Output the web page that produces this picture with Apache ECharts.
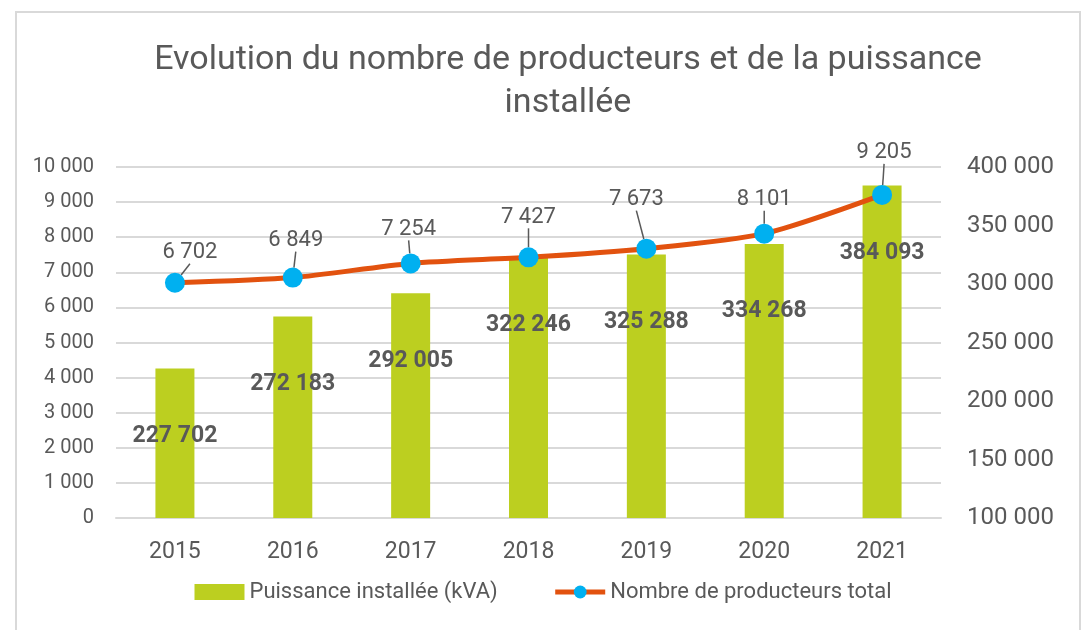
<!DOCTYPE html>
<html>
<head>
    <meta charset="utf-8">
    <title>Evolution producteurs</title>
    <script src="https://cdn.jsdelivr.net/npm/echarts@6/dist/echarts.min.js"></script>
    <style>
        html, body { margin: 0; padding: 0; background: #fff; }
        #chart { width: 1086px; height: 630px; }
    </style>
</head>
<body>
    <div id="chart"></div>
    <script type="text/javascript">
        var years = ['2015', '2016', '2017', '2018', '2019', '2020', '2021'];
        var puissance = [227702, 272183, 292005, 322246, 325288, 334268, 384093];
        var producteurs = [6702, 6849, 7254, 7427, 7673, 8101, 9205];

        // position des étiquettes de la courbe (décalage par rapport au point)
        var labelShift = [[15, -30], [3, -37], [-2, -34], [0, -40], [-10, -49], [0, -34], [2, -42]];

        var FONT = 'Roboto';
        var GREY = '#595959';

        function fmt(v) {
            return String(v).replace(/\B(?=(\d{3})+(?!\d))/g, ' ');
        }

        var chart = echarts.init(document.getElementById('chart'));
        var option = {
            backgroundColor: '#fff',
            textStyle: { fontFamily: FONT },
            graphic: [{
                type: 'rect',
                shape: { x: 16, y: 12, width: 1064, height: 640 },
                style: { fill: 'none', stroke: '#d9d9d9', lineWidth: 2 },
                silent: true
            }],
            title: {
                text: 'Evolution du nombre de producteurs et de la puissance\ninstallée',
                left: 563,
                top: 34,
                textAlign: 'center',
                textStyle: { fontFamily: FONT, fontSize: 34, fontWeight: 'normal', color: GREY, lineHeight: 43 }
            },
            legend: {
                bottom: 22,
                left: 'center',
                itemGap: 55,
                itemWidth: 50,
                itemHeight: 16,
                textStyle: { fontFamily: FONT, fontSize: 22, color: GREY },
                data: [
                    { name: 'Puissance installée (kVA)', icon: 'rect' },
                    { name: 'Nombre de producteurs total', lineStyle: { width: 5 } }
                ]
            },
            grid: { left: 116, right: 145, top: 167, bottom: 112 },
            xAxis: {
                type: 'category',
                data: years,
                axisTick: { show: false },
                axisLine: { lineStyle: { color: '#d9d9d9', width: 2 } },
                axisLabel: { fontFamily: FONT, fontSize: 23, color: GREY, margin: 23 }
            },
            yAxis: [{
                type: 'value',
                min: 0, max: 10000, interval: 1000,
                axisLine: { show: false },
                axisTick: { show: false },
                splitLine: { lineStyle: { color: '#d9d9d9', width: 2 } },
                axisLabel: { fontFamily: FONT, fontSize: 20, color: GREY, margin: 22, formatter: fmt }
            }, {
                type: 'value',
                min: 100000, max: 400000, interval: 50000,
                axisLine: { show: false },
                axisTick: { show: false },
                splitLine: { show: false },
                axisLabel: { fontFamily: FONT, fontSize: 24, color: GREY, margin: 26, formatter: fmt }
            }],
            series: [{
                name: 'Puissance installée (kVA)',
                type: 'bar',
                yAxisIndex: 1,
                data: puissance,
                barWidth: 39,
                itemStyle: { color: '#BCCF20' },
                label: {
                    show: true,
                    position: 'insideTop',
                    distance: 56,
                    fontFamily: FONT,
                    fontSize: 23,
                    fontWeight: 'bold',
                    color: GREY,
                    formatter: function (p) { return fmt(p.value); }
                }
            }, {
                name: 'Nombre de producteurs total',
                type: 'line',
                yAxisIndex: 0,
                data: producteurs,
                smooth: 0.25,
                symbol: 'circle',
                symbolSize: 20,
                lineStyle: { color: '#E2520F', width: 5 },
                itemStyle: { color: '#00B0F0' },
                z: 5,
                label: {
                    show: true,
                    position: 'inside',
                    fontFamily: FONT,
                    fontSize: 22,
                    color: GREY,
                    formatter: function (p) { return fmt(p.value); }
                },
                labelLine: { show: true, lineStyle: { color: GREY, width: 1.5 } },
                labelLayout: function (p) {
                    var s = labelShift[p.dataIndex];
                    return { dx: s[0], dy: s[1] };
                }
            }]
        };
        chart.setOption(option);
    </script>
</body>
</html>
